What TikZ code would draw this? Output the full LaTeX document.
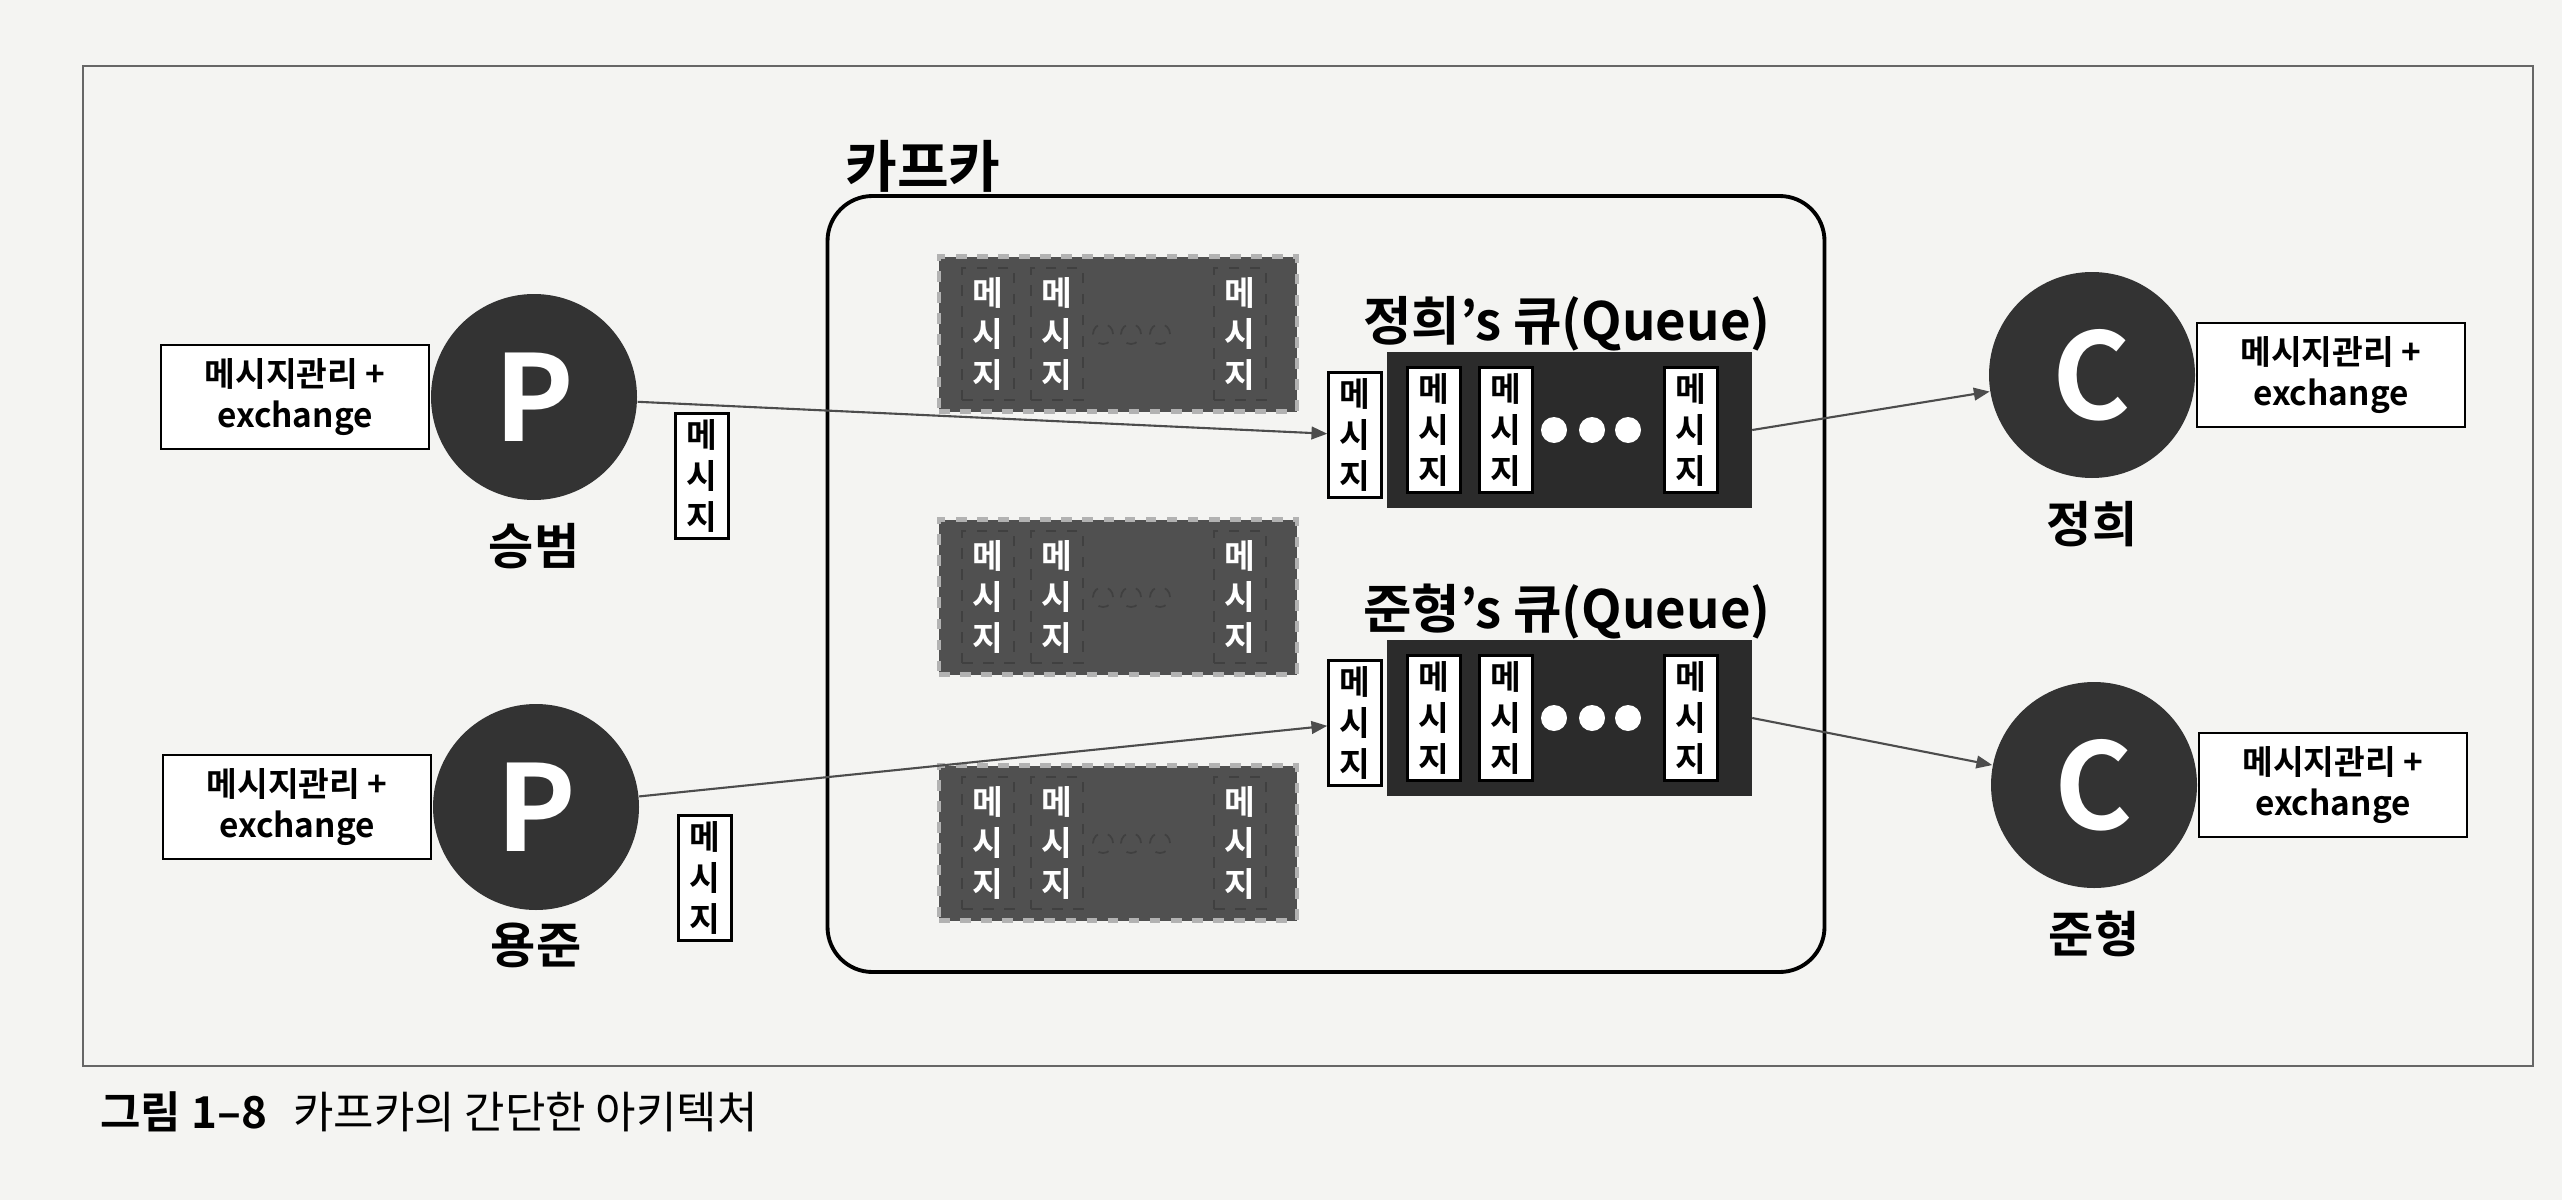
\documentclass[tikz,border=0pt]{standalone}
\usepackage{fontspec}
\setmainfont{Noto Sans CJK KR}[BoldFont={Noto Sans CJK KR Bold}]
\usetikzlibrary{arrows.meta,positioning,calc}
\definecolor{paper}{HTML}{F4F4F2}
\definecolor{ink}{HTML}{333333}
\definecolor{storegray}{HTML}{505050}
\definecolor{queueblack}{HTML}{2B2B2B}
\newcommand{\msgtxt}{메\\시\\지}

\begin{document}
\begin{tikzpicture}[
  x=0.1mm, y=-0.1mm,
  role/.style={circle, fill=ink, minimum size=20.6mm, inner sep=0pt,
    text=white, font=\fontsize{34}{34}\selectfont\bfseries},
  infobox/.style={draw, fill=white, line width=0.7pt, minimum width=26.8mm,
    minimum height=10.4mm, align=center, inner sep=0pt,
    font=\fontsize{9.5}{11.5}\selectfont\bfseries},
  who/.style={font=\fontsize{14}{14}\selectfont\bfseries},
  msgcell/.style={draw, fill=white, line width=0.7pt, minimum width=5.3mm,
    minimum height=12.5mm, inner sep=0pt, align=center,
    font=\fontsize{9.5}{11.7}\selectfont\bfseries},
  storebox/.style={fill=storegray, draw=black!30, dashed, line width=1.2pt,
    minimum width=35.8mm, minimum height=15.5mm},
  storecell/.style={draw=black!75, dashed, minimum width=5.2mm,
    minimum height=13.2mm, inner sep=0pt, align=center, text=white,
    font=\fontsize{9.5}{11.7}\selectfont\bfseries},
  queuebox/.style={fill=queueblack, minimum width=36.5mm, minimum height=15.6mm},
  flow/.style={->, draw=black!70, line width=0.6pt},
  >={Triangle[length=4.5pt, width=3.6pt]}
]
\useasboundingbox[fill=paper] (0,0) rectangle (2562,1200);

% page frame and caption
\draw[black!60, line width=0.6pt] (83,66) rectangle (2533,1066);
\node[anchor=west, font=\fontsize{12.5}{12.5}\selectfont] (caption) at (88,1112)
  {\textbf{그림 1–8}\hspace{0.6em}카프카의 간단한 아키텍처};

% kafka
\node[draw, rounded corners=4.5mm, line width=1.1pt, minimum width=99.7mm,
  minimum height=77.6mm] (kafka) at (1326,584) {};
\node[font=\fontsize{16}{16}\selectfont\bfseries] (kafkalbl) at (923,166) {카프카};

% stored partitions
\foreach \s/\y in {1/334, 2/597, 3/843} {
  \node[storebox] (s\s) at (1118,\y) {};
  \node[storecell] (s\s a) at (988,\y) {\msgtxt};
  \node[storecell] (s\s b) at (1057,\y) {\msgtxt};
  \node[storecell] (s\s c) at (1240,\y) {\msgtxt};
  \foreach \dx in {1103,1131,1160}
    \draw[black!75, dashed, line width=0.5pt] (\dx,\y) circle[radius=1mm];
}

% queues
\foreach \q/\y/\who in {1/430/정희, 2/718/준형} {
  \node[queuebox] (q\q) at (1569,\y) {};
  \node[font=\fontsize{15}{15}\selectfont\bfseries] (qt\q) at (1567,\y-106) {\who’s 큐(Queue)};
  \node[msgcell] (f\q) at (1355,\y+5) {\msgtxt};
  \node[msgcell] (q\q a) at (1434,\y) {\msgtxt};
  \node[msgcell] (q\q b) at (1506,\y) {\msgtxt};
  \node[msgcell] (q\q c) at (1691,\y) {\msgtxt};
  \foreach \dx in {1554,1592,1628}
    \fill[white] (\dx,\y) circle[radius=1.3mm];
}

% producers
\node[role] (p1) at (534,397) {P};
\node[infobox, anchor=east] (pb1) at (p1.west) {메시지관리 +\\exchange};
\node[who, below=1mm of p1] (pn1) {승범};
\node[msgcell] (m1) at (702,476) {\msgtxt};

\node[role] (p2) at (536,807) {P};
\node[infobox, anchor=east] (pb2) at (p2.west) {메시지관리 +\\exchange};
\node[who, below=0mm of p2] (pn2) {용준};
\node[msgcell] (m2) at (705,878) {\msgtxt};

% consumers
\node[role] (c1) at (2092,375) {C};
\node[infobox, anchor=west] (cb1) at (c1.east) {메시지관리 +\\exchange};
\node[who, below=1mm of c1] (cn1) {정희};

\node[role] (c2) at (2094,785) {C};
\node[infobox, anchor=west] (cb2) at (c2.east) {메시지관리 +\\exchange};
\node[who, below=1mm of c2] (cn2) {준형};

\draw[flow] (p1) -- (f1);
\draw[flow] (p2) -- (f2);
\draw[flow] (q1.east) -- (c1);
\draw[flow] (q2.east) -- (c2);
\end{tikzpicture}
\end{document}
